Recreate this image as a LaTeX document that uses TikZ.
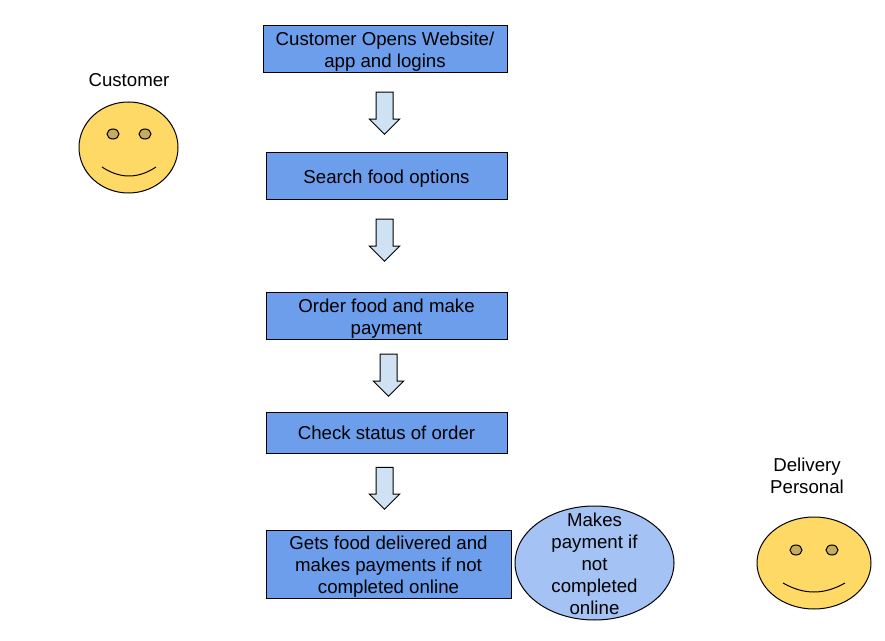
\documentclass[tikz,border=0pt]{standalone}
\usepackage{fontspec}
\setmainfont{Liberation Sans}
\usetikzlibrary{shapes.geometric,shapes.arrows}
\definecolor{boxblue}{HTML}{6D9EEB}
\definecolor{ovalblue}{HTML}{A4C2F4}
\definecolor{arrowblue}{HTML}{CFE2F3}
\definecolor{faceyellow}{HTML}{FFD966}
\definecolor{eyebrown}{HTML}{C4AB5E}
\tikzset{
  label text/.style={font=\fontsize{14}{16.5}\selectfont,align=center,inner sep=0pt},
  flowbox/.style 2 args={draw,line width=0.75pt,fill=boxblue,label text,minimum width=#1*0.75pt,minimum height=#2*0.75pt},
  downarrow/.style={draw,line width=0.75pt,fill=arrowblue,shape=single arrow,shape border rotate=270,
    single arrow head extend=5pt,single arrow tip angle=90,single arrow head indent=0pt,
    minimum height=31.5pt,inner sep=6pt},
  face/.style={draw,line width=0.75pt,fill=faceyellow,shape=ellipse,inner sep=0pt},
  eye/.style={draw,line width=0.75pt,fill=eyebrown,shape=ellipse,inner sep=0pt,minimum width=9pt,minimum height=7.5pt}
}
\begin{document}
\begin{tikzpicture}[x=0.75pt,y=-0.75pt]
\useasboundingbox (0,0) rectangle (885,641);

\node[flowbox={244}{47},label={[label text,yshift=-1.5pt]center:{Customer Opens Website/\\app and logins}}] (website) at (385,49.5) {};
\node[flowbox={241}{47},label={[label text,yshift=-2pt]center:{Search food options}}] (search) at (386.5,176.5) {};
\node[flowbox={241}{47},label={[label text,yshift=-1.5pt]center:{Order food and make\\payment}}] (order) at (386.5,316.5) {};
\node[flowbox={241}{41},label={[label text]center:{Check status of order}}] (status) at (386.5,432.5) {};
\node[flowbox={245}{68},label={[label text,yshift=-1.9pt]center:{Gets food delivered and\\makes payments if not\\completed online}}] (delivered) at (388.5,564) {};

\node[draw,line width=0.75pt,fill=ovalblue,shape=ellipse,minimum width=119.25pt,minimum height=85.5pt,
  label={[label text,yshift=-0.75pt]center:{Makes\\payment if\\not\\completed\\online}}] (cash) at (594.5,563) {};

\node[downarrow] (arrowa) at (384.5,109) {};
\node[downarrow] (arrowb) at (384.5,236) {};
\node[downarrow] (arrowc) at (388.5,371) {};
\node[downarrow] (arrowd) at (384.5,484) {};

% customer
\node[label text] (customerlabel) at (129,80) {Customer};
\node[face,minimum width=74.25pt,minimum height=68.25pt] (customer) at (128.5,147.5) {};
\node[eye] (customereyea) at (113,134) {};
\node[eye] (customereyeb) at (145,134) {};
\draw[line width=0.75pt] (102,167) .. controls (120,179) and (138,179) .. (156,167);

% delivery
\node[label text] (deliverylabel) at (807,476) {Delivery\\Personal};
\node[face,minimum width=85.5pt,minimum height=69pt] (delivery) at (814,563) {};
\node[eye] (deliveryeyea) at (796,550) {};
\node[eye] (deliveryeyeb) at (832,550) {};
\draw[line width=0.75pt] (783,583) .. controls (804,595) and (824,595) .. (845,583);
\end{tikzpicture}
\end{document}
